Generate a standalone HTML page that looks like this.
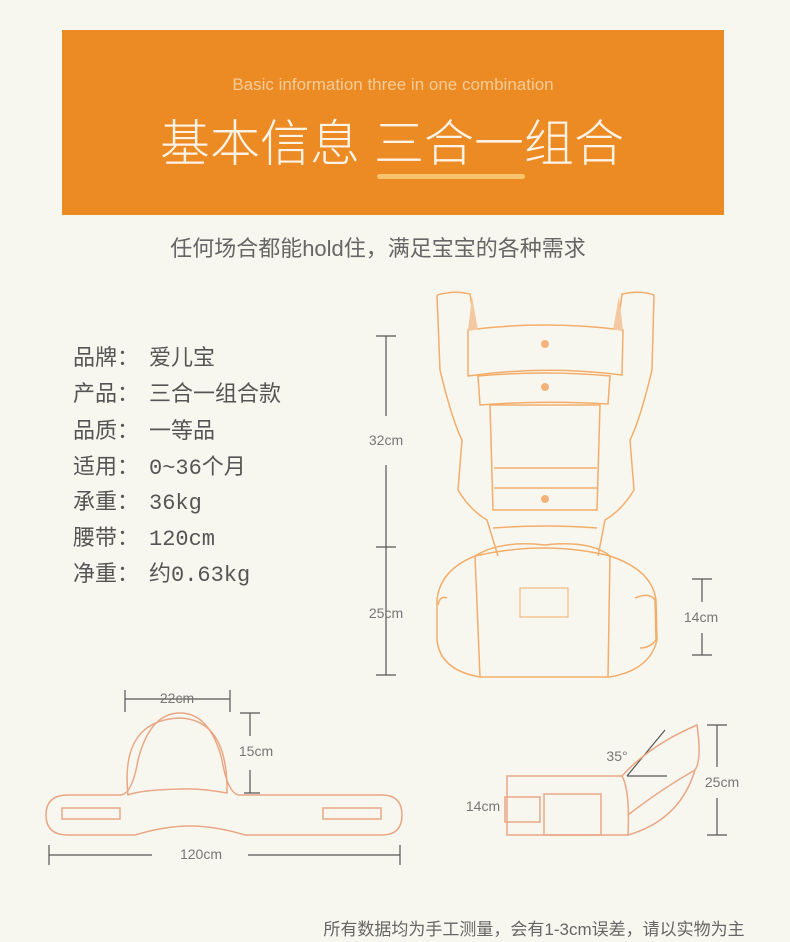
<!DOCTYPE html>
<html><head><meta charset="utf-8"><style>
html,body{margin:0;padding:0;background:#f8f7ef;}
body{width:790px;height:942px;overflow:hidden;position:relative;}
svg{position:absolute;left:0;top:0;}
</style></head><body>
<svg width="790" height="942" viewBox="0 0 790 942" xmlns="http://www.w3.org/2000/svg">
<rect x="0" y="0" width="790" height="942" fill="#f8f7ef"/>
<rect x="62" y="30" width="662" height="185" fill="#ec8a24"/>
<text x="393" y="90" text-anchor="middle" font-family="'Liberation Sans',sans-serif" font-size="17" fill="#f6cc98">Basic information three in one combination</text>
<text x="392" y="161" text-anchor="middle" font-family="'Liberation Sans','Noto Sans CJK SC',sans-serif" font-size="50" fill="#fdf3e6" font-weight="300">基本信息 三合一组合</text>
<rect x="377" y="174" width="148" height="5" rx="2.5" fill="#f9c46e"/>
<text x="378" y="256" text-anchor="middle" font-family="'Liberation Sans','Noto Sans CJK SC',sans-serif" font-size="22" fill="#666">任何场合都能hold住，满足宝宝的各种需求</text>
<g font-family="'Liberation Mono','Noto Sans CJK SC',monospace" font-size="22" fill="#555">
<text x="73" y="365">品牌：</text><text x="149" y="365">爱儿宝</text>
<text x="73" y="401">产品：</text><text x="149" y="401">三合一组合款</text>
<text x="73" y="438">品质：</text><text x="149" y="438">一等品</text>
<text x="73" y="474">适用：</text><text x="149" y="474">0~36个月</text>
<text x="73" y="509">承重：</text><text x="149" y="509">36kg</text>
<text x="73" y="545">腰带：</text><text x="149" y="545">120cm</text>
<text x="73" y="581">净重：</text><text x="149" y="581">约0.63kg</text>
</g>
<g stroke="#555" stroke-width="1.2" fill="none">
<path d="M376 336H396M386 336V416M386 465V675M376 547H396M376 675H396"/>
<path d="M692 579H712M702 579V602M702 633V655M692 655H712"/>
<path d="M125 699H230M125 690V712M230 690V712"/>
<path d="M240 713H260M250 713V736M250 770V793M244 793H260"/>
<path d="M49 855H152M248 855H400M49 845V865M400 845V865"/>
<path d="M707 725H727M717 725V767M717 798V835M707 835H727"/>
<path d="M627 776L665 730M627 776H667"/>
</g>
<g font-family="'Liberation Sans',sans-serif" font-size="14" fill="#777" text-anchor="middle">
<text x="386" y="445">32cm</text>
<text x="386" y="618">25cm</text>
<text x="701" y="622">14cm</text>
<text x="177" y="703">22cm</text>
<text x="256" y="756">15cm</text>
<text x="201" y="859">120cm</text>
<text x="722" y="787">25cm</text>
<text x="483" y="811">14cm</text>
<text x="617" y="761">35°</text>
</g>
<g stroke="#f3ad6a" stroke-width="1.5" fill="none">
<path d="M437 295Q455 290 470 294L475 325"/>
<path d="M437 295L440 370Q452 420 462 440L458 490Q470 510 487 520L498 556"/>
<path d="M654 295Q640 290 622 294L618 325"/>
<path d="M654 295L652 370Q640 420 630 440L634 490Q622 510 605 520L598 556"/>
<path d="M468 330Q545 320 623 330L622 375Q545 365 468 376Z"/>
<path d="M478 376Q545 370 610 376L608 404Q545 400 480 405Z"/>
<path d="M490 405H600L597 510H493Z"/>
<path d="M494 468H597M494 488H597"/>
<path d="M493 528Q545 524 597 528"/>
<path d="M437 600Q440 570 475 556Q545 540 610 556Q652 570 656 600L657 640Q650 670 610 677H480Q440 670 437 640Z"/>
<path d="M475 556Q500 540 545 545Q590 540 610 556L608 677M475 556L480 677"/>
<path d="M520 588H568V617H520Z" stroke-width="1"/>
<path d="M635 598Q650 592 655 600L656 640Q650 648 640 648"/>
<path d="M447 598Q440 595 438 605"/>
</g>
<circle cx="545" cy="344" r="4" fill="#f3b37a"/>
<circle cx="545" cy="387" r="4" fill="#f3b37a"/>
<circle cx="545" cy="499" r="4" fill="#f3b37a"/>
<path d="M472 296L478 330L468 330Z" fill="#f4c9a2"/>
<path d="M619 296L613 330L623 330Z" fill="#f4c9a2"/>
<g stroke="#e9a785" stroke-width="1.5" fill="none">
<path d="M92 795H68Q46 795 46 815Q46 835 68 835H135Q165 826 190 826Q215 826 245 835H382Q402 835 402 815Q402 795 382 795H240Q228 795 222 760Q210 713 180 713Q150 713 138 760Q132 795 120 795Z"/>
<path d="M128 795Q120 720 180 718Q228 720 227 793Q200 788 180 789Q140 790 128 795Z"/>
<rect x="62" y="808" width="58" height="11"/>
<rect x="323" y="808" width="58" height="11"/>
</g>
<g stroke="#e9a785" stroke-width="1.5" fill="none">
<path d="M507 776H622Q630 790 628 835H507Z"/>
<path d="M622 776Q650 745 697 725Q702 760 695 770Q660 790 628 815"/>
<path d="M628 835Q680 820 695 770"/>
<rect x="505" y="797" width="35" height="25"/>
<rect x="544" y="794" width="57" height="41"/>
</g>
<text x="534" y="935" text-anchor="middle" font-family="'Liberation Sans','Noto Sans CJK SC',sans-serif" font-size="17" fill="#666">所有数据均为手工测量，会有1-3cm误差，请以实物为主</text>
</svg>
</body></html>
